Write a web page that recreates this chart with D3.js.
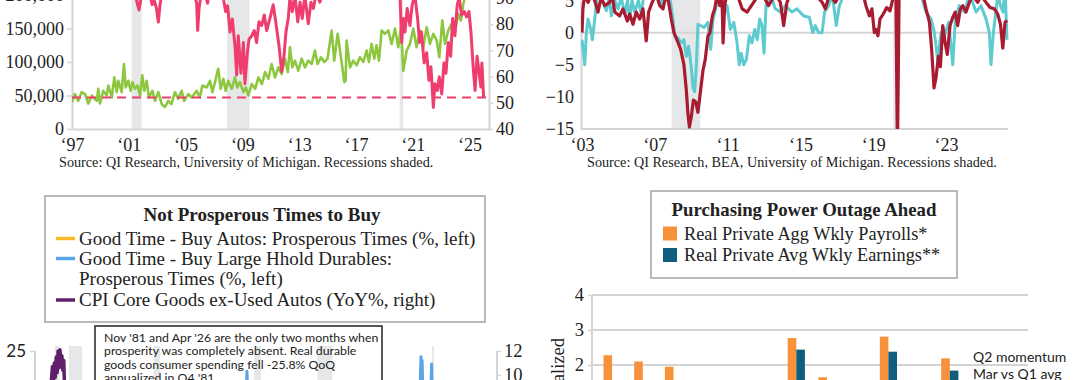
<!DOCTYPE html>
<html>
<head>
<meta charset="utf-8">
<script src="https://cdn.jsdelivr.net/npm/d3@7"></script>
<style>
body { margin: 0; background: #fff; }
svg { display: block; }
</style>
</head>
<body>
<svg id="chart" width="1080" height="380"></svg>
<script>
// ---- top left: autos sold (left, thousands) vs prosperous times (right) ----
var tlYears = [1997, 2001, 2005, 2009, 2013, 2017, 2021, 2025];
var tlLeftTicks = [0, 50000, 100000, 150000, 200000];
var tlRightTicks = [40, 50, 60, 70, 80, 90];
var tlRecessions = [[2001.2, 2001.9], [2007.92, 2009.5], [2020.08, 2020.33]];
var tlPinkRef = 52;
var tlGreen = [[1997.0,40],[1997.2,52],[1997.44,42],[1997.68,55],[1997.92,52],[1998.15,38],[1998.4,50],[1998.6,45],[1998.75,42],[1998.85,60],[1998.97,38],[1999.2,57],[1999.44,50],[1999.56,65],[1999.8,47],[1999.98,77],[2000.15,55],[2000.26,72],[2000.5,55],[2000.66,97],[2000.78,62],[2000.97,72],[2001.13,57],[2001.27,70],[2001.43,60],[2001.62,65],[2001.79,50],[2001.95,80],[2002.09,57],[2002.26,72],[2002.42,47],[2002.66,57],[2002.85,42],[2003.08,55],[2003.32,37],[2003.55,33],[2003.78,42],[2004.0,37],[2004.25,55],[2004.48,45],[2004.72,57],[2004.9,42],[2005.19,52],[2005.43,47],[2005.78,57],[2006.0,47],[2006.18,65],[2006.49,62],[2006.72,72],[2006.89,55],[2007.07,70],[2007.3,90],[2007.47,60],[2007.66,75],[2007.82,57],[2008.0,72],[2008.25,60],[2008.48,77],[2008.64,62],[2008.83,70],[2009.07,55],[2009.24,62],[2009.42,50],[2009.66,67],[2009.9,60],[2010.13,77],[2010.37,67],[2010.6,85],[2010.83,75],[2011.06,97],[2011.3,77],[2011.53,92],[2011.77,82],[2012.0,105],[2012.2,85],[2012.35,122],[2012.52,92],[2012.7,102],[2012.94,87],[2013.18,105],[2013.41,92],[2013.64,102],[2013.88,97],[2014.11,117],[2014.3,97],[2014.54,107],[2014.77,100],[2015.0,105],[2015.29,147],[2015.47,102],[2015.71,142],[2015.99,100],[2016.18,70],[2016.27,72],[2016.34,132],[2016.58,92],[2016.81,102],[2017.05,95],[2017.28,107],[2017.52,100],[2017.75,117],[2017.91,100],[2018.1,127],[2018.29,105],[2018.45,125],[2018.62,102],[2018.81,147],[2019.04,142],[2019.28,147],[2019.51,127],[2019.75,150],[2019.98,122],[2020.17,152],[2020.33,87],[2020.57,117],[2020.8,127],[2021.04,150],[2021.27,122],[2021.51,147],[2021.74,122],[2021.98,152],[2022.21,127],[2022.45,142],[2022.69,132],[2022.87,107],[2023.08,162],[2023.27,127],[2023.5,147],[2023.74,157],[2023.97,145],[2024.2,172],[2024.39,162],[2024.56,187],[2024.72,200],[2024.85,215]];
var tlPink = [[1997.0,95],[1998.0,96],[1999.0,97],[2000.0,96],[2001.0,94],[2001.4,92],[2001.55,89],[2001.72,85.4],[2001.86,90],[2002.1,93],[2002.5,91],[2002.65,87.5],[2002.8,89],[2002.95,86],[2003.08,80.8],[2003.2,87.4],[2003.35,92],[2004.0,94],[2005.0,93],[2005.65,91],[2005.78,88],[2005.85,77.6],[2005.95,86],[2006.1,92],[2006.45,90],[2006.55,88],[2006.7,93],[2007.3,94],[2007.66,90],[2007.82,84.8],[2007.96,87],[2008.13,77],[2008.29,82],[2008.48,71.7],[2008.6,60.6],[2008.71,75.6],[2008.9,61.3],[2009.07,73],[2009.18,57.3],[2009.35,69.1],[2009.47,74.3],[2009.66,75.6],[2009.84,77.6],[2010.0,73],[2010.17,80.9],[2010.36,79.5],[2010.54,83.5],[2010.71,77.6],[2010.94,82.2],[2011.17,87.4],[2011.37,80.2],[2011.58,71.7],[2011.77,61.9],[2011.93,67.8],[2012.07,77],[2012.23,82.2],[2012.35,90],[2012.52,84.8],[2012.7,91],[2012.9,80.9],[2013.06,88.4],[2013.22,82.2],[2013.4,91],[2013.64,80.2],[2013.83,88.4],[2014.0,86],[2014.2,92],[2014.46,88.4],[2014.7,93],[2016.0,94],[2017.5,96],[2019.0,95],[2020.0,93],[2020.1,91],[2020.22,73],[2020.33,82.2],[2020.45,77],[2020.61,86],[2020.8,79.5],[2020.96,87.4],[2021.15,91],[2021.34,82.2],[2021.48,73],[2021.62,77],[2021.8,65.2],[2021.98,69.1],[2022.14,58.6],[2022.28,63.8],[2022.45,48.2],[2022.56,57.3],[2022.73,54.7],[2022.87,59.9],[2023.04,53.4],[2023.2,65.2],[2023.34,61.3],[2023.5,73],[2023.67,67.8],[2023.81,82.2],[2023.97,75.6],[2024.13,87.4],[2024.27,90],[2024.44,83.5],[2024.63,84.8],[2024.79,82.8],[2024.96,84.8],[2025.1,77],[2025.27,62.5],[2025.39,54.7],[2025.53,67.8],[2025.68,61.3],[2025.8,56],[2025.87,65.2],[2025.99,52]];

// ---- top right: two yoy series ----
var trYears = [2003, 2007, 2011, 2015, 2019, 2023];
var trTicks = [-15, -10, -5, 0, 5];
var trRecessions = [[2007.92, 2009.5], [2020.1, 2020.3]];
var trRed = [[2003.0,0],[2003.05,3.7],[2003.15,6],[2003.33,4.7],[2003.51,6],[2003.7,5],[2003.88,3.2],[2004.05,5.5],[2004.25,4.2],[2004.52,4.7],[2004.65,6],[2004.8,3.2],[2005.07,2.6],[2005.25,3.7],[2005.49,1.8],[2005.62,2.9],[2005.8,1.3],[2005.98,3.2],[2006.17,2.1],[2006.35,3.7],[2006.53,-1.3],[2006.66,3.2],[2006.85,4.7],[2007.08,6],[2007.27,4.2],[2007.45,3.7],[2007.63,6],[2007.76,4.7],[2007.91,2.1],[2008.05,0],[2008.24,-1.3],[2008.42,-2.6],[2008.6,-5],[2008.73,-8.9],[2008.82,-12.6],[2008.9,-14.7],[2009.0,-13.2],[2009.12,-10.5],[2009.25,-10.8],[2009.37,-12.4],[2009.52,-8.9],[2009.65,-5.8],[2009.77,-4.2],[2009.92,-0.5],[2010.03,0],[2010.16,2.6],[2010.29,3.7],[2010.43,6],[2010.57,4.2],[2010.69,6],[2010.75,-1.6],[2010.84,4.2],[2010.95,6],[2011.4,7],[2011.8,3.7],[2012.07,3.2],[2012.43,4.7],[2012.7,6],[2013.0,5.5],[2013.25,4.2],[2013.62,6],[2013.9,4.7],[2014.08,1.1],[2014.26,4.7],[2014.45,6],[2015.1,7],[2015.8,6],[2016.2,4.7],[2016.37,3.7],[2016.6,6],[2016.92,4.7],[2017.29,6.5],[2018.0,7],[2018.45,6],[2018.6,4.2],[2018.79,2.6],[2018.93,3.7],[2019.06,0],[2019.15,0.5],[2019.26,-0.5],[2019.37,2.1],[2019.55,2.9],[2019.74,3.9],[2019.92,3.4],[2020.1,5.5],[2020.25,5.3],[2020.33,-19],[2020.43,8],[2020.6,12],[2021.0,9],[2021.72,6],[2021.9,3.7],[2022.09,1.6],[2022.21,-2.6],[2022.34,-8.6],[2022.45,-7],[2022.58,-3.7],[2022.69,-5.3],[2022.82,1.1],[2022.95,-1.6],[2023.07,-3.4],[2023.22,1.1],[2023.37,2.4],[2023.51,3.2],[2023.64,1.1],[2023.79,3.7],[2023.92,4.2],[2024.1,3.2],[2024.28,4.7],[2024.47,5.8],[2024.74,4.7],[2024.92,5.8],[2025.2,4.7],[2025.42,3.9],[2025.66,3.7],[2025.84,2.9],[2025.99,1.3],[2026.12,-2.4],[2026.24,1.6],[2026.35,1.9]];
var trTeal = [[2003.0,-1.1],[2003.15,-5],[2003.24,0],[2003.33,2.1],[2003.48,0.5],[2003.57,-1.1],[2003.7,2.1],[2003.84,6],[2004.1,5],[2004.34,3.4],[2004.5,5.5],[2004.61,2.6],[2004.8,5],[2004.98,3.7],[2005.15,5.5],[2005.35,2.9],[2005.5,5],[2005.62,2.1],[2005.75,5],[2005.9,3.2],[2006.1,5],[2006.26,2.9],[2006.4,6],[2007.0,6.5],[2007.2,5.5],[2007.36,4.2],[2007.5,6],[2007.85,5],[2008.0,2.1],[2008.09,-0.5],[2008.27,-0.8],[2008.46,-1.6],[2008.6,-1.1],[2008.73,-3.7],[2008.86,-2.1],[2009.0,-5.3],[2009.1,-8.6],[2009.19,-9.2],[2009.28,-5.3],[2009.37,1.3],[2009.52,1.1],[2009.7,0.8],[2009.92,1.6],[2010.07,-2.6],[2010.2,2.1],[2010.38,4.2],[2010.55,6],[2010.78,2.6],[2010.97,4.2],[2011.15,0.5],[2011.34,1.6],[2011.52,-1.6],[2011.64,-5],[2011.75,-3.2],[2011.88,-5],[2012.03,-4.2],[2012.19,-0.5],[2012.34,-1.6],[2012.49,0.5],[2012.63,-1.1],[2012.76,2.1],[2012.89,1.1],[2013.0,-3.2],[2013.11,4.2],[2013.35,6],[2013.62,3.7],[2013.9,3.2],[2014.17,4.2],[2014.54,3.2],[2014.81,3.7],[2015.18,2.6],[2015.49,2.4],[2015.68,0],[2015.82,1.1],[2016.0,0],[2016.19,0],[2016.33,3.2],[2016.55,4.2],[2016.75,6],[2016.97,1.1],[2017.14,4.2],[2017.4,6],[2018.5,6.5],[2020.0,7],[2021.0,7],[2021.6,6],[2021.9,3.2],[2022.18,2.1],[2022.36,0],[2022.54,-4.2],[2022.73,0],[2022.91,-0.5],[2023.15,1.6],[2023.37,-5],[2023.51,2.1],[2023.73,4.2],[2024.01,3.2],[2024.3,6],[2024.65,3.2],[2024.92,4.2],[2025.2,2.1],[2025.38,0],[2025.47,-5],[2025.6,0],[2025.71,2.6],[2025.85,6],[2025.99,4.2],[2026.13,3.2],[2026.24,7],[2026.35,-1.1]];

// ---- bottom left: prosperous times to buy ----
var blLegend = ["Good Time - Buy Autos: Prosperous Times (%, left)", "Good Time - Buy Large Hhold Durables:", "Prosperous Times (%, left)", "CPI Core Goods ex-Used Autos (YoY%, right)"];
var blNote = ["Nov '81 and Apr '26 are the only two months when", "prosperity was completely absent. Real durable", "goods consumer spending fell -25.8% QoQ", "annualized in Q4 '81."];
var blLeftTicks = [25];
var blRightTicks = [10, 12];
var blRecessions = [[1980.0, 1980.5], [1981.5, 1982.9], [1990.5, 1991.2], [2001.2, 2001.9], [2007.92, 2009.5], [2020.1, 2020.3]];
var blAutos = [[1978,12],[1981.8,0],[1990,7],[2000.5,16],[2019,17],[2020.1,15],[2026.3,0]];
var blDurables = [[1978,10],[1990,8],[2000.3,12],[2000.42,20.8],[2000.55,13],[2010,8],[2018.8,14],[2018.86,19.5],[2018.92,23.8],[2018.98,19.5],[2019.04,23],[2019.15,14],[2019.9,12],[2020.05,22.3],[2020.15,10],[2026.3,0]];
var blCore = [[1978,7.5],[1979,8.5],[1979.6,9.2],[1979.75,10.7],[1979.85,9.6],[1979.95,11.0],[1980.05,9.8],[1980.15,11.5],[1980.25,10.2],[1980.35,12.0],[1980.45,10.6],[1980.55,12.1],[1980.65,10.8],[1980.75,11.6],[1980.85,10.4],[1980.95,11.2],[1981.05,8.5],[1981.5,8],[1982.5,5],[1984,3],[1990,3],[2000,0],[2021.8,7],[2022.2,6],[2026,1]];

// ---- bottom right: purchasing power ----
var brCats = ["P1","P2","P3","P4","P5","P6","P7","P8","P9","P10","P11","P12"];
var brPayrolls = [2.28, 2.1, 1.95, 1.2, 1.1, 0.9, 2.77, 1.65, 1.3, 2.81, 1.4, 2.19];
var brEarnings = [1.2, 1.0, 0.8, 0.6, 0.5, 0.7, 2.44, 1.1, 0.9, 2.38, 1.0, 1.84];
var brTicks = [1, 2, 3, 4];
var brLegend = ["Real Private Agg Wkly Payrolls*", "Real Private Avg Wkly Earnings**"];

var svg = d3.select("#chart");
var serif = "'Palatino Linotype','Book Antiqua',Palatino,'Liberation Serif',serif";
var sans = "Lato,'Noto Sans',sans-serif";
var axisGrey = "#d4d4d4";
var shadeGrey = "#e6e7e9";

function yearLabel(d) { return "\u2018" + String(d).slice(2); }

// common axis look
function styleAxis(g, size) {
        g.selectAll("text").attr("font-family", serif).attr("font-size", size).attr("fill", "#222");
        g.selectAll(".tick line").attr("stroke", axisGrey).attr("stroke-width", 1.5);
        g.select(".domain").attr("stroke", axisGrey).attr("stroke-width", 2);
}

function drawLine(g, data, x, y, colour, width) {
        g.append("path")
                .datum(data)
                .attr("fill", "none")
                .attr("stroke", colour)
                .attr("stroke-width", width)
                .attr("stroke-linejoin", "round")
                .attr("d", d3.line().x(d => x(d[0])).y(d => y(d[1])));
}

// ================= top left =================
var xTL = d3.scaleLinear().domain([1997, 2026.37]).range([72, 489]);
var yTLL = d3.scaleLinear().domain([0, 200000]).range([129, -5]);
var yTLR = d3.scaleLinear().domain([40, 90]).range([129, -2]);
var tl = svg.append("g");

tl.selectAll(".rec").data(tlRecessions).enter().append("rect")
        .attr("x", d => xTL(d[0]))
        .attr("width", d => xTL(d[1]) - xTL(d[0]))
        .attr("y", -10).attr("height", 139)
        .attr("fill", shadeGrey);

var gl = tl.append("g").attr("transform", "translate(72,0)")
        .call(d3.axisLeft(yTLL).tickValues(tlLeftTicks).tickSize(5).tickSizeOuter(0).tickPadding(3).tickFormat(d3.format(",")));
styleAxis(gl, 18);
var gr = tl.append("g").attr("transform", "translate(489,0)")
        .call(d3.axisRight(yTLR).tickValues(tlRightTicks).tickSize(4).tickSizeOuter(0).tickPadding(3));
styleAxis(gr, 18);
var gb = tl.append("g").attr("transform", "translate(0,129)")
        .call(d3.axisBottom(xTL).tickValues(tlYears).tickSize(0).tickPadding(9).tickFormat(yearLabel));
styleAxis(gb, 18);

tl.append("clipPath").attr("id", "clipTL").append("rect").attr("x", 72).attr("y", -50).attr("width", 417).attr("height", 179);
var tlPlot = tl.append("g").attr("clip-path", "url(#clipTL)");
drawLine(tlPlot, tlGreen, xTL, d => yTLL(d * 1000), "#8dc63f", 2.6);
tlPlot.append("line")
        .attr("x1", 72).attr("x2", 489)
        .attr("y1", yTLR(tlPinkRef)).attr("y2", yTLR(tlPinkRef))
        .attr("stroke", "#ef3e6d").attr("stroke-width", 2)
        .attr("stroke-dasharray", "9,6");
drawLine(tlPlot, tlPink, xTL, yTLR, "#ef3e6d", 3);

tl.append("text").attr("x", 59).attr("y", 167)
        .attr("font-family", serif).attr("font-size", 14.2).attr("fill", "#222")
        .text("Source: QI Research, University of Michigan. Recessions shaded.");

// ================= top right =================
var xTR = d3.scaleLinear().domain([2003, 2026.35]).range([582, 1007]);
var yTR = d3.scaleLinear().domain([-15, 5]).range([129, 0.5]);
var tr = svg.append("g");

tr.selectAll(".rec").data(trRecessions).enter().append("rect")
        .attr("x", d => xTR(d[0]))
        .attr("width", d => xTR(d[1]) - xTR(d[0]))
        .attr("y", -10).attr("height", 139)
        .attr("fill", shadeGrey);

tr.append("line")
        .attr("x1", 581).attr("x2", 1008)
        .attr("y1", yTR(0)).attr("y2", yTR(0))
        .attr("stroke", axisGrey).attr("stroke-width", 2);

var tgl = tr.append("g").attr("transform", "translate(581,0)")
        .call(d3.axisLeft(yTR).tickValues(trTicks).tickSize(0).tickSizeOuter(0).tickPadding(7));
styleAxis(tgl, 18);
var tgb = tr.append("g").attr("transform", "translate(0,129)")
        .call(d3.axisBottom(xTR).tickValues(trYears).tickSize(0).tickPadding(9).tickFormat(yearLabel));
styleAxis(tgb, 18);
tgb.select(".domain").attr("d", "M581,0H1008");

tr.append("clipPath").attr("id", "clipTR").append("rect").attr("x", 581).attr("y", -50).attr("width", 440).attr("height", 179);
var trPlot = tr.append("g").attr("clip-path", "url(#clipTR)");
drawLine(trPlot, trTeal, xTR, yTR, "#5ecbd0", 3);
drawLine(trPlot, trRed, xTR, yTR, "#a81b31", 3.2);

tr.append("text").attr("x", 587).attr("y", 167)
        .attr("font-family", serif).attr("font-size", 14.2).attr("fill", "#222")
        .text("Source: QI Research, BEA, University of Michigan. Recessions shaded.");

// ================= bottom left =================
var xBL = d3.scaleLinear().domain([1978, 2027]).range([36, 497]);
var yBLL = d3.scaleLinear().domain([0, 25]).range([471, 351]);
var yBLR = d3.scaleLinear().domain([0, 12]).range([495, 351]);
var bl = svg.append("g");

bl.selectAll(".rec").data(blRecessions).enter().append("rect")
        .attr("x", d => xBL(d[0]))
        .attr("width", d => xBL(d[1]) - xBL(d[0]))
        .attr("y", 346).attr("height", 60)
        .attr("fill", shadeGrey);

var bgl = bl.append("g").attr("transform", "translate(35,0)")
        .call(d3.axisLeft(yBLL).tickValues(blLeftTicks).tickSize(5).tickSizeOuter(0).tickPadding(4));
styleAxis(bgl, 17);
bgl.selectAll("text").attr("font-family", sans);
bgl.select(".domain").attr("d", "M0,351V400");
var bgr = bl.append("g").attr("transform", "translate(497,0)")
        .call(d3.axisRight(yBLR).tickValues(blRightTicks).tickSize(4).tickSizeOuter(0).tickPadding(3));
styleAxis(bgr, 18.5);
bgr.select(".domain").attr("d", "M0,351V400");

drawLine(bl, blAutos, xBL, yBLL, "#fdb827", 3);
drawLine(bl, blDurables, xBL, yBLL, "#5aa5e6", 3);
drawLine(bl, blCore, xBL, yBLR, "#5e1f6b", 3.5);

// legend box
var legBL = bl.append("g");
legBL.append("rect").attr("x", 45).attr("y", 196).attr("width", 440).attr("height", 126)
        .attr("fill", "#fff").attr("stroke", "#a3a3a3").attr("stroke-width", 1.5);
legBL.append("text").attr("x", 262).attr("y", 221).attr("text-anchor", "middle")
        .attr("font-family", serif).attr("font-size", 19).attr("font-weight", "bold").attr("fill", "#222")
        .text("Not Prosperous Times to Buy");
var blRows = [
        { colour: "#fdb827", y: 238.5, text: blLegend[0] },
        { colour: "#5aa5e6", y: 258.5, text: blLegend[1] },
        { colour: null, y: 279, text: blLegend[2] },
        { colour: "#5e1f6b", y: 300, text: blLegend[3] }
];
blRows.forEach(function(r) {
        if (r.colour) {
                legBL.append("line").attr("x1", 56).attr("x2", 75).attr("y1", r.y).attr("y2", r.y)
                        .attr("stroke", r.colour).attr("stroke-width", 3.5);
        }
        legBL.append("text").attr("x", 79).attr("y", r.y + 6)
                .attr("font-family", serif).attr("font-size", 19).attr("fill", "#222")
                .text(r.text);
});

// note box
bl.append("rect").attr("x", 95).attr("y", 326).attr("width", 287).attr("height", 80)
        .attr("fill", "none").attr("stroke", "#222").attr("stroke-width", 1.5);
bl.selectAll(".note").data(blNote).enter().append("text")
        .attr("x", 104).attr("y", (d, i) => 342 + i * 13.3)
        .attr("font-family", sans).attr("font-size", 12.3).attr("fill", "#222")
        .text(d => d);

// ================= bottom right =================
var x0BR = d3.scaleBand().domain(brCats).range([596.75, 965.15]).paddingInner(0.44).paddingOuter(0.22);
var x1BR = d3.scaleBand().domain(["pay", "earn"]).range([0, x0BR.bandwidth()]);
var yBR = d3.scaleLinear().domain([0, 4]).range([435, 295]);
var br = svg.append("g");

br.selectAll(".grid").data(brTicks).enter().append("line")
        .attr("x1", 592).attr("x2", 1028)
        .attr("y1", d => yBR(d)).attr("y2", d => yBR(d))
        .attr("stroke", axisGrey).attr("stroke-width", 2);
var rgl = br.append("g").attr("transform", "translate(592,0)")
        .call(d3.axisLeft(yBR).tickValues(brTicks).tickSize(4).tickSizeOuter(0).tickPadding(4).tickFormat(d3.format("d")));
styleAxis(rgl, 18.5);
rgl.select(".domain").attr("d", "M0,295V440");

br.append("text")
        .attr("transform", "translate(564,338) rotate(-90)")
        .attr("text-anchor", "end")
        .attr("font-family", serif).attr("font-size", 18.5).attr("fill", "#222")
        .text("Percent Annualized");

var groups = br.selectAll(".grp").data(brCats).enter().append("g")
        .attr("transform", d => "translate(" + x0BR(d) + ",0)");
groups.append("rect")
        .attr("x", x1BR("pay")).attr("width", x1BR.bandwidth())
        .attr("y", (d, i) => yBR(brPayrolls[i]))
        .attr("height", (d, i) => yBR(0) - yBR(brPayrolls[i]))
        .attr("fill", "#f7923a");
groups.append("rect")
        .attr("x", x1BR("earn")).attr("width", x1BR.bandwidth())
        .attr("y", (d, i) => yBR(brEarnings[i]))
        .attr("height", (d, i) => yBR(0) - yBR(brEarnings[i]))
        .attr("fill", "#0f5e7d");

br.append("text").attr("x", 973).attr("y", 362)
        .attr("font-family", sans).attr("font-size", 14).attr("fill", "#222")
        .text("Q2 momentum");
br.append("text").attr("x", 973).attr("y", 379)
        .attr("font-family", sans).attr("font-size", 14).attr("fill", "#222")
        .text("Mar vs Q1 avg");

// legend box
var legBR = br.append("g");
legBR.append("rect").attr("x", 651).attr("y", 191).attr("width", 306).attr("height", 87)
        .attr("fill", "#fff").attr("stroke", "#a3a3a3").attr("stroke-width", 1.5);
legBR.append("text").attr("x", 804).attr("y", 216).attr("text-anchor", "middle")
        .attr("font-family", serif).attr("font-size", 18.8).attr("font-weight", "bold").attr("fill", "#222")
        .text("Purchasing Power Outage Ahead");
[["#f7923a", 226.5], ["#0f5e7d", 248]].forEach(function(s, i) {
        legBR.append("rect").attr("x", 663).attr("y", s[1]).attr("width", 14).attr("height", 14).attr("fill", s[0]);
        legBR.append("text").attr("x", 684).attr("y", s[1] + 13)
                .attr("font-family", serif).attr("font-size", 18.3).attr("fill", "#222")
                .text(brLegend[i]);
});
</script>
</body>
</html>
